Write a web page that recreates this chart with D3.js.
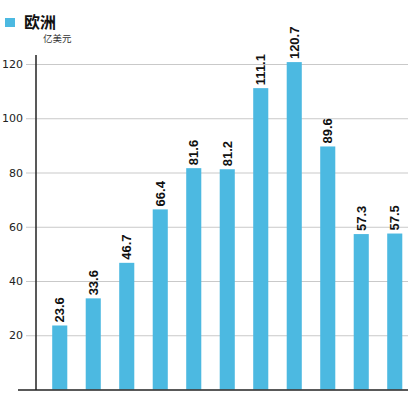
<!DOCTYPE html>
<html>
<head>
<meta charset="utf-8">
<script src="https://cdn.jsdelivr.net/npm/d3@7"></script>
<style>
body{margin:0;background:#fff;}
</style>
</head>
<body>
<svg id="chart"></svg>
<script>
var width = 415, height = 393;
var categories = ["2003","2004","2005","2006","2007","2008","2009","2010","2011","2012","2013"];
var values = [23.6, 33.6, 46.7, 66.4, 81.6, 81.2, 111.1, 120.7, 89.6, 57.3, 57.5];
var yTicks = [20, 40, 60, 80, 100, 120];
var seriesName = "欧洲";
var unitLabel = "亿美元";
var barColor = "#4cb9e1";

var svg = d3.select("#chart").attr("width", width).attr("height", height);

var xScale = d3.scaleBand().domain(categories)
    .range([43, 411.5])
    .paddingInner(0.55)
    .paddingOuter(0.275);
var yScale = d3.scaleLinear().domain([0, 120]).range([389.5, 64]);

// grid + ticks
var yAxis = svg.append("g").attr("class", "axis")
    .attr("transform", "translate(36,0)")
    .call(d3.axisLeft(yScale).tickValues(yTicks).tickSize(10).tickPadding(3).tickFormat(d => d))
yAxis.select(".domain").remove()
yAxis.selectAll(".tick line").attr("x1", -10).attr("x2", 372).attr("stroke", "#c9c9c9")
yAxis.selectAll(".tick text").style("font-family", "DejaVu Sans").style("font-size", "11px").attr("fill", "#222")

// bars
svg.selectAll("rect.bar")
    .data(values)
    .join("rect").attr("class", "bar")
    .attr("x", (d, i) => xScale(categories[i]))
    .attr("y", d => yScale(d))
    .attr("width", xScale.bandwidth())
    .attr("height", d => yScale(0) - yScale(d))
    .attr("fill", barColor)

// value labels
svg.selectAll("text.val")
    .data(values)
    .join("text").attr("class", "val")
    .attr("transform", (d, i) => "translate(" + (xScale(categories[i]) + xScale.bandwidth() / 2 + 4.5) + "," + (yScale(d) - 3) + ") rotate(-90)")
    .text(d => d)
    .style("font-family", "Liberation Sans, Arial, sans-serif")
    .style("font-size", "13px").style("font-weight", "bold").attr("fill", "#111")

// axes lines
svg.append("line").attr("x1", 36).attr("x2", 36).attr("y1", 55).attr("y2", 390)
    .attr("stroke", "#222").attr("stroke-width", 1.5)
svg.append("line").attr("x1", 18).attr("x2", 408).attr("y1", 390).attr("y2", 390)
    .attr("stroke", "#222").attr("stroke-width", 1.5)

// legend
svg.append("rect").attr("x", 5).attr("y", 18).attr("width", 10).attr("height", 9).attr("fill", barColor)
svg.append("text").attr("x", 24).attr("y", 28).text(seriesName)
    .style("font-family", "Noto Sans CJK SC").style("font-size", "16px").style("font-weight", "bold").attr("fill", "#111")
svg.append("text").attr("x", 43).attr("y", 42).text(unitLabel)
    .style("font-family", "Noto Sans CJK SC").style("font-size", "9.5px").attr("fill", "#333")
</script>
</body>
</html>
